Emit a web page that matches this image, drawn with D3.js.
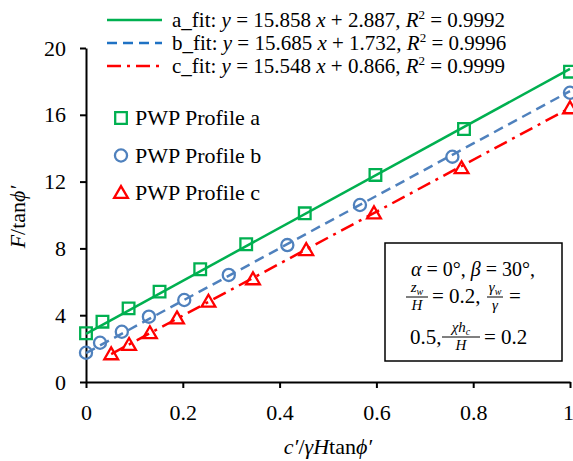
<!DOCTYPE html>
<html>
<head>
<meta charset="utf-8">
<script src="https://cdn.jsdelivr.net/npm/d3@7"></script>
<style>
  html, body { margin: 0; padding: 0; background: #fff; }
  svg { display: block; font-family: "Liberation Serif", "Times New Roman", serif; }
</style>
</head>
<body>
<div id="chart"></div>
<script>
// --- data ---
const xTicks = [0, 0.2, 0.4, 0.6, 0.8, 1];
const xTickLabels = ["0", "0.2", "0.4", "0.6", "0.8", "1"];
const yTicks = [0, 4, 8, 12, 16, 20];

const aX = [0, 0.034, 0.088, 0.152, 0.236, 0.331, 0.452, 0.598, 0.781, 1];
const aY = [2.92, 3.61, 4.41, 5.41, 6.75, 8.25, 10.10, 12.40, 15.15, 18.58];

const bX = [0, 0.029, 0.074, 0.130, 0.203, 0.295, 0.416, 0.566, 0.757, 1];
const bY = [1.75, 2.35, 3.01, 3.91, 4.91, 6.41, 8.20, 10.60, 13.49, 17.32];

const cX = [0.052, 0.089, 0.132, 0.188, 0.253, 0.345, 0.455, 0.595, 0.776, 1];
const cY = [1.66, 2.22, 2.92, 3.81, 4.81, 6.15, 7.90, 10.10, 12.80, 16.39];

// fitted lines: slope, intercept, r2
const fitNames = ["a_fit", "b_fit", "c_fit"];
const fitSlopes = [15.858, 15.685, 15.548];
const fitIntercepts = [2.887, 1.732, 0.866];
const fitR2 = ["0.9992", "0.9996", "0.9999"];

const seriesNames = ["PWP Profile a", "PWP Profile b", "PWP Profile c"];

const W = 573, H = 461;
const green = "#00b050", blue = "#4f81bd", blueLegend = "#1f72c4", red = "#ff0000";

const svg = d3.select("#chart").append("svg")
  .attr("width", W).attr("height", H);

const x = d3.scaleLinear().domain([0, 1]).range([86, 570]);
const y = d3.scaleLinear().domain([0, 20]).range([382, 48]);

// --- axes ---
const xAxis = svg.append("g")
  .attr("transform", `translate(0,${y(0)})`)
  .call(d3.axisBottom(x).tickValues(xTicks).tickSize(6).tickSizeOuter(0)
    .tickFormat((d, i) => xTickLabels[i]));
xAxis.select(".domain").attr("stroke", "#000").attr("stroke-width", 2);
xAxis.selectAll(".tick line").attr("stroke", "#000").attr("stroke-width", 2);
xAxis.selectAll(".tick text")
  .attr("font-family", "Liberation Serif").attr("font-size", 22)
  .attr("fill", "#000").attr("y", 22).attr("dy", "0.71em")
  .attr("dx", d => (d === 1 ? -2 : 0));

const yAxis = svg.append("g")
  .attr("transform", `translate(${x(0)},0)`)
  .call(d3.axisLeft(y).tickValues(yTicks).tickSize(6).tickSizeOuter(0));
yAxis.select(".domain").attr("stroke", "#000").attr("stroke-width", 2);
yAxis.selectAll(".tick line").attr("stroke", "#000").attr("stroke-width", 2);
yAxis.selectAll(".tick text")
  .attr("font-family", "Liberation Serif").attr("font-size", 22)
  .attr("fill", "#000").attr("x", -20);

// axis titles
const xt = svg.append("text")
  .attr("x", 328).attr("y", 454)
  .attr("text-anchor", "middle").attr("font-size", 22);
xt.append("tspan").attr("font-style", "italic").text("c′");
xt.append("tspan").text("/");
xt.append("tspan").attr("font-style", "italic").text("γH");
xt.append("tspan").text("tan");
xt.append("tspan").attr("font-style", "italic").text("ϕ′");

const yt = svg.append("text")
  .attr("transform", "translate(25,217) rotate(-90)")
  .attr("text-anchor", "middle").attr("font-size", 22);
yt.append("tspan").attr("font-style", "italic").text("F");
yt.append("tspan").text("/tan");
yt.append("tspan").attr("font-style", "italic").text("ϕ′");

// --- fit lines ---
const fitColors = [green, blue, red];
const fitDash = [null, "10,6", "14,6,3,6"];
const fitRanges = [[d3.min(aX), d3.max(aX)], [d3.min(bX), d3.max(bX)], [d3.min(cX), d3.max(cX)]];
const line = d3.line().x(d => x(d[0])).y(d => y(d[1]));
fitNames.forEach((n, i) => {
  const pts = fitRanges[i].map(v => [v, fitSlopes[i] * v + fitIntercepts[i]]);
  svg.append("path")
    .attr("d", line(pts))
    .attr("fill", "none")
    .attr("stroke", fitColors[i])
    .attr("stroke-width", 2.5)
    .attr("stroke-dasharray", fitDash[i]);
});

// --- markers ---
const sqSym = d3.symbol().type(d3.symbolSquare).size(135);
const ciSym = d3.symbol().type(d3.symbolCircle).size(115);
const trSym = d3.symbol().type(d3.symbolTriangle).size(82);

function drawMarkers(xs, ys, sym, color, dy) {
  svg.append("g").selectAll("path")
    .data(xs.map((v, i) => [v, ys[i]]))
    .join("path")
    .attr("transform", d => `translate(${x(d[0])},${y(d[1]) + (dy || 0)})`)
    .attr("d", sym)
    .attr("fill", "none")
    .attr("stroke", color)
    .attr("stroke-width", 2.3);
}
drawMarkers(aX, aY, sqSym, green);
drawMarkers(bX, bY, ciSym, blue);
drawMarkers(cX, cY, trSym, red, 1);

// --- fit legend ---
const legendLineColors = [green, blueLegend, red];
fitNames.forEach((n, i) => {
  const cy = 20 + i * 23;
  svg.append("line")
    .attr("x1", 107).attr("x2", 162).attr("y1", cy).attr("y2", cy)
    .attr("stroke", legendLineColors[i]).attr("stroke-width", 2.5)
    .attr("stroke-dasharray", fitDash[i]);
  const t = svg.append("text").attr("x", 172).attr("y", cy + 7).attr("font-size", 21);
  t.append("tspan").text(`${n}: `);
  t.append("tspan").attr("font-style", "italic").text("y");
  t.append("tspan").text(` = ${fitSlopes[i].toFixed(3)} `);
  t.append("tspan").attr("font-style", "italic").text("x");
  t.append("tspan").text(` + ${fitIntercepts[i].toFixed(3)}, `);
  t.append("tspan").attr("font-style", "italic").text("R");
  t.append("tspan").attr("font-size", 13).attr("dy", -8).text("2");
  t.append("tspan").attr("dy", 8).text(` = ${fitR2[i]}`);
});

// --- marker legend ---
const legSyms = [sqSym, ciSym, trSym];
seriesNames.forEach((n, i) => {
  const cy = 118 + i * 37.5;
  svg.append("path")
    .attr("transform", `translate(121,${cy + (i === 2 ? 1 : 0)})`)
    .attr("d", legSyms[i])
    .attr("fill", "none").attr("stroke", fitColors[i]).attr("stroke-width", 2.3);
  svg.append("text").attr("x", 135).attr("y", cy + 7)
    .attr("font-size", 22).text(n);
});

// --- parameter box ---
svg.append("rect")
  .attr("x", 385).attr("y", 243).attr("width", 177).attr("height", 118)
  .attr("fill", "#fff").attr("stroke", "#000").attr("stroke-width", 1.5);

const box = svg.append("g").attr("font-family", "Liberation Serif");
const l1 = box.append("text").attr("x", 473).attr("y", 276)
  .attr("text-anchor", "middle").attr("font-size", 20);
l1.append("tspan").attr("font-style", "italic").text("α");
l1.append("tspan").text(" = 0°, ");
l1.append("tspan").attr("font-style", "italic").text("β");
l1.append("tspan").text(" = 30°,");

function frac(cx, barY, barW, num, sub, den) {
  const n = box.append("text").attr("x", cx).attr("y", barY - 5)
    .attr("text-anchor", "middle").attr("font-size", 15).attr("font-style", "italic");
  n.append("tspan").text(num);
  if (sub) n.append("tspan").attr("font-size", 10).attr("dy", 3).text(sub);
  box.append("line")
    .attr("x1", cx - barW / 2).attr("x2", cx + barW / 2)
    .attr("y1", barY).attr("y2", barY)
    .attr("stroke", "#000").attr("stroke-width", 1);
  box.append("text").attr("x", cx).attr("y", barY + 13)
    .attr("text-anchor", "middle").attr("font-size", 15).attr("font-style", "italic")
    .text(den);
}
// line 2
frac(417, 297, 22, "z", "w", "H");
box.append("text").attr("x", 432).attr("y", 303).attr("font-size", 21).text("= 0.2,");
frac(495, 297, 16, "γ", "w", "γ");
box.append("text").attr("x", 509).attr("y", 303).attr("font-size", 21).text("=");
// line 3
box.append("text").attr("x", 410).attr("y", 344).attr("font-size", 21).text("0.5,");
frac(461, 337, 38, "χh", "c", "H");
box.append("text").attr("x", 484).attr("y", 344).attr("font-size", 21).text("= 0.2");
</script>
</body>
</html>
